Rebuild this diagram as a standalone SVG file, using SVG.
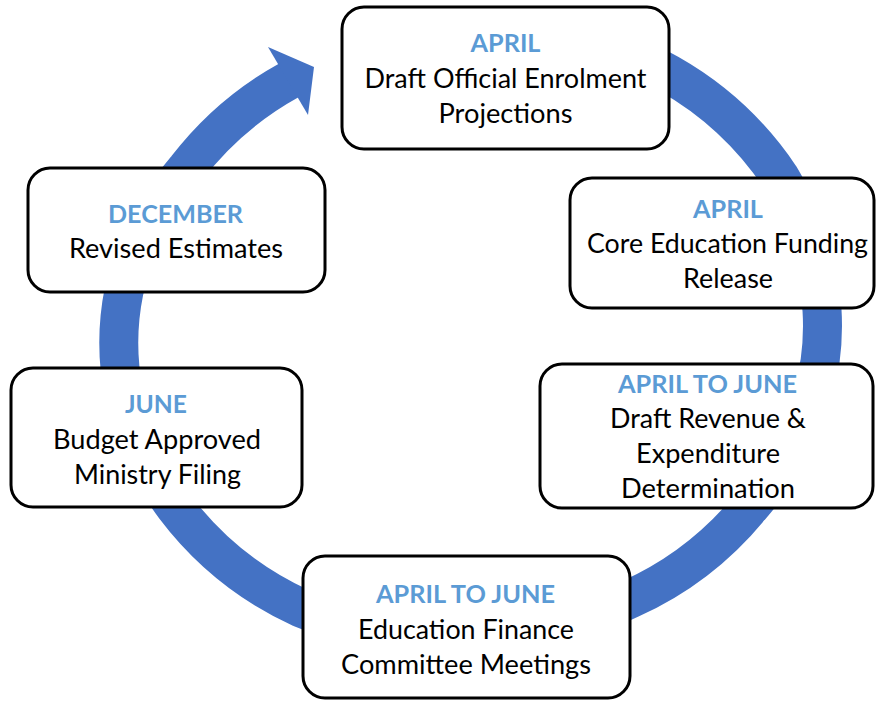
<svg xmlns="http://www.w3.org/2000/svg" width="876" height="702" viewBox="0 0 876 702">
<style>
.box{fill:#fff;stroke:#000;stroke-width:3}
.t{font-family:Lato,"Liberation Sans",sans-serif;font-size:26px;fill:#000;text-anchor:middle}
.m{font-family:Lato,"Liberation Sans",sans-serif;font-size:25px;font-weight:bold;fill:#5B9BD5;text-anchor:middle}
.ring{fill:none;stroke:#4472C4;stroke-width:39}
</style>
<rect width="876" height="702" fill="#fff"/>
<g id="connectors">
<path class="ring" d="M 560 32 A 400 400 0 0 1 669 74 A 330 330 0 0 1 780 177 A 300 300 0 0 1 822 310 A 260 260 0 0 1 820 362 A 300 300 0 0 1 750 507 A 330 330 0 0 1 630 599 A 400 400 0 0 1 301 608 A 330 330 0 0 1 175 507 A 290 290 0 0 1 120 368 A 260 260 0 0 1 124 291 A 300 300 0 0 1 187 168 A 330 330 0 0 1 289.5 80"/>
<polygon points="268,47 314,67 308,115" fill="#4472C4"/>
</g>
<g id="node-april-projections">
<rect class="box" x="342" y="7" width="327" height="142" rx="22"/>
<text class="m" x="505.5" y="52" textLength="70" lengthAdjust="spacingAndGlyphs">APRIL</text>
<text class="t" x="505.5" y="88" textLength="282" lengthAdjust="spacingAndGlyphs">Draft Official Enrolment</text>
<text class="t" x="505.5" y="122.5" textLength="134" lengthAdjust="spacingAndGlyphs">Projections</text>
</g>
<g id="node-april-funding">
<rect class="box" x="570" y="178" width="304" height="130" rx="22"/>
<text class="m" x="728" y="218" textLength="70" lengthAdjust="spacingAndGlyphs">APRIL</text>
<text class="t" x="727.5" y="252.5" textLength="281" lengthAdjust="spacingAndGlyphs">Core Education Funding</text>
<text class="t" x="728" y="288" textLength="90" lengthAdjust="spacingAndGlyphs">Release</text>
</g>
<g id="node-revenue">
<rect class="box" x="540" y="364" width="333" height="144" rx="22"/>
<text class="m" x="707.5" y="392.5" textLength="179" lengthAdjust="spacingAndGlyphs">APRIL TO JUNE</text>
<text class="t" x="708" y="428" textLength="196" lengthAdjust="spacingAndGlyphs">Draft Revenue &amp;</text>
<text class="t" x="708" y="463" textLength="144" lengthAdjust="spacingAndGlyphs">Expenditure</text>
<text class="t" x="708" y="498" textLength="174" lengthAdjust="spacingAndGlyphs">Determination</text>
</g>
<g id="node-committee">
<rect class="box" x="303" y="556" width="327" height="142" rx="22"/>
<text class="m" x="465.5" y="602.5" textLength="179" lengthAdjust="spacingAndGlyphs">APRIL TO JUNE</text>
<text class="t" x="466" y="638.5" textLength="216" lengthAdjust="spacingAndGlyphs">Education Finance</text>
<text class="t" x="466" y="673.5" textLength="250" lengthAdjust="spacingAndGlyphs">Committee Meetings</text>
</g>
<g id="node-june">
<rect class="box" x="11" y="368" width="291" height="139" rx="22"/>
<text class="m" x="156" y="413" textLength="62" lengthAdjust="spacingAndGlyphs">JUNE</text>
<text class="t" x="157" y="448.5" textLength="208" lengthAdjust="spacingAndGlyphs">Budget Approved</text>
<text class="t" x="157.5" y="484" textLength="167" lengthAdjust="spacingAndGlyphs">Ministry Filing</text>
</g>
<g id="node-december">
<rect class="box" x="28" y="168" width="297" height="124" rx="22"/>
<text class="m" x="175.5" y="223" textLength="135" lengthAdjust="spacingAndGlyphs">DECEMBER</text>
<text class="t" x="176" y="257.5" textLength="214" lengthAdjust="spacingAndGlyphs">Revised Estimates</text>
</g>
</svg>
